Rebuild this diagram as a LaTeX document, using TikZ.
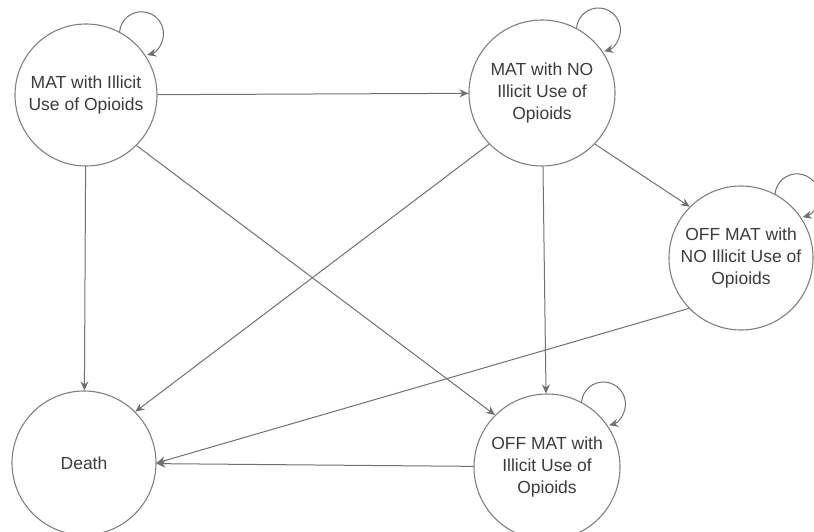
\documentclass[tikz,border=0pt]{standalone}
\usepackage{fontspec}
\setmainfont{Liberation Sans}
\usetikzlibrary{arrows.meta}
\definecolor{rand}{RGB}{128,128,128}
\definecolor{linie}{RGB}{112,112,112}
\definecolor{schrift}{RGB}{60,60,60}
\tikzset{
	zustand/.style={circle, draw=rand, line width=1.1pt, fill=white, align=center,
		text=schrift, font=\fontsize{17.5}{22}\selectfont, inner sep=0pt},
	pfeil/.style={draw=linie, line width=1pt, -{Stealth[length=9pt,width=8pt]}}
}
\begin{document}
\begin{tikzpicture}[x=1pt, y=1pt]
	\useasboundingbox (0,0) rectangle (814,531);
	% Zustaende
	\node [zustand, minimum size=142pt] (mill) at (86,436) {MAT with Illicit\\Use of Opioids};
	\node [zustand, minimum size=146pt] (mno) at (542,438) {MAT with NO\\Illicit Use of\\Opioids};
	\node [zustand, minimum size=144pt] (offno) at (741,273) {OFF MAT with\\NO Illicit Use of\\Opioids};
	\node [zustand, minimum size=144pt] (death) at (84,68) {Death};
	\node [zustand, minimum size=146pt] (offill) at (547,64) {OFF MAT with\\Illicit Use of\\Opioids};
	% Schleifen
	\foreach \n in {mill, mno, offno, offill} {
		\draw [pfeil] (\n.62) arc [start angle=175, end angle=-75, radius=22];
	}
	% Uebergaenge
	\draw [pfeil] (mill) -- (mno);
	\draw [pfeil] (mill) -- (death);
	\draw [pfeil] (mill.-45) -- (offill.135);
	\draw [pfeil] (mno.-136) -- (death.45);
	\draw [pfeil] (mno) -- (offill);
	\draw [pfeil] (mno.-44) -- (offno.135);
	\draw [pfeil] (offno.-136) -- (death.east);
	\draw [pfeil] (offill) -- (death);
\end{tikzpicture}
\end{document}
